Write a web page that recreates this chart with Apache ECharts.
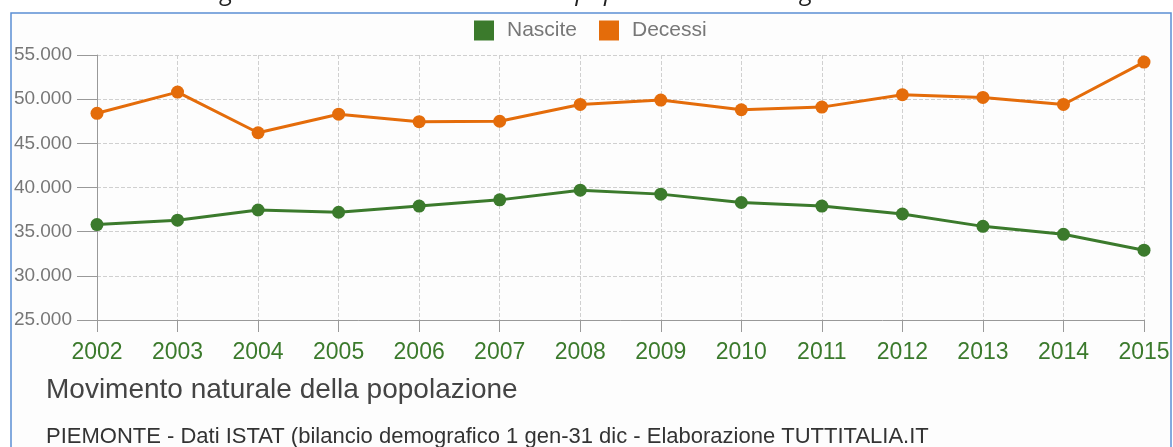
<!DOCTYPE html>
<html>
<head>
<meta charset="utf-8">
<script src="https://cdn.jsdelivr.net/npm/echarts@6/dist/echarts.min.js"></script>
<style>
  html, body { margin: 0; padding: 0; background: #ffffff; }
  #chart { width: 1173px; height: 447px; }
</style>
</head>
<body>
<div id="chart"></div>
<script>
const years = ['2002', '2003', '2004', '2005', '2006', '2007', '2008', '2009', '2010', '2011', '2012', '2013', '2014', '2015']
const nascite = [35800, 36300, 37450, 37200, 37900, 38600, 39700, 39250, 38300, 37900, 37000, 35600, 34700, 32900]
const decessi = [48400, 50800, 46200, 48300, 47450, 47500, 49400, 49900, 48800, 49100, 50500, 50200, 49400, 54200]

const GREEN = '#3b7a2c'
const ORANGE = '#e46c0a'
const fontName = 'Liberation Sans'

const chart = echarts.init(document.getElementById('chart'), null, { renderer: 'canvas' })

const option = {
  backgroundColor: '#ffffff',
  animation: false,
  textStyle: { fontFamily: fontName },
  graphic: [
    {
      type: 'rect',
      shape: { x: 11, y: 13, width: 1160, height: 460 },
      style: { fill: '#fdfdfd', stroke: '#5b8fd4', lineWidth: 1.5 },
      z: -10
    },
    {
      type: 'text',
      left: 'center',
      top: -20,
      style: {
        text: 'Figura: Movimento naturale della popolazione nella regione Piemonte',
        font: 'italic 25px "Open Sans"',
        fill: '#222'
      }
    },
    {
      type: 'text',
      left: 46,
      top: 376,
      style: { text: 'Movimento naturale della popolazione', font: '28px "Liberation Sans"', fill: '#444' }
    },
    {
      type: 'text',
      left: 46,
      top: 426,
      style: { text: 'PIEMONTE - Dati ISTAT (bilancio demografico 1 gen-31 dic - Elaborazione TUTTITALIA.IT', font: '22px "Liberation Sans"', fill: '#333' }
    }
  ],
  legend: {
    top: 15,
    left: 469,
    itemWidth: 20,
    itemHeight: 20,
    itemGap: 22,
    icon: 'rect',
    textStyle: { color: '#777', fontSize: 21, fontFamily: fontName, padding: [0, 0, 0, 8] },
    data: ['Nascite', 'Decessi']
  },
  grid: {
    left: 97,
    right: 29,
    top: 55,
    bottom: 127
  },
  xAxis: {
    type: 'category',
    data: years,
    boundaryGap: false,
    axisLine: { lineStyle: { color: '#999', width: 1 } },
    axisTick: { show: true, length: 12, lineStyle: { color: '#999' } },
    axisLabel: { color: GREEN, fontSize: 23, margin: 21, fontFamily: fontName },
    splitLine: { show: true, lineStyle: { color: '#d0d0d0', type: 'dashed' } }
  },
  yAxis: {
    type: 'value',
    min: 25000,
    max: 55000,
    interval: 5000,
    axisLine: { show: true, lineStyle: { color: '#999', width: 1 } },
    axisTick: { show: true, length: 20, lineStyle: { color: '#999' } },
    axisLabel: {
      color: '#777',
      fontSize: 19,
      margin: 25,
      fontFamily: fontName,
      formatter: v => v.toString().replace(/\B(?=(\d{3})+(?!\d))/g, '.')
    },
    splitLine: { show: true, lineStyle: { color: '#d0d0d0', type: 'dashed' } }
  },
  series: [
    {
      name: 'Nascite',
      type: 'line',
      data: nascite,
      symbol: 'circle',
      symbolSize: 13,
      itemStyle: { color: GREEN },
      lineStyle: { color: GREEN, width: 3 }
    },
    {
      name: 'Decessi',
      type: 'line',
      data: decessi,
      symbol: 'circle',
      symbolSize: 13,
      itemStyle: { color: ORANGE },
      lineStyle: { color: ORANGE, width: 3 }
    }
  ]
}

chart.setOption(option)
window.addEventListener('resize', function () {
  chart.resize()
})
</script>
</body>
</html>
